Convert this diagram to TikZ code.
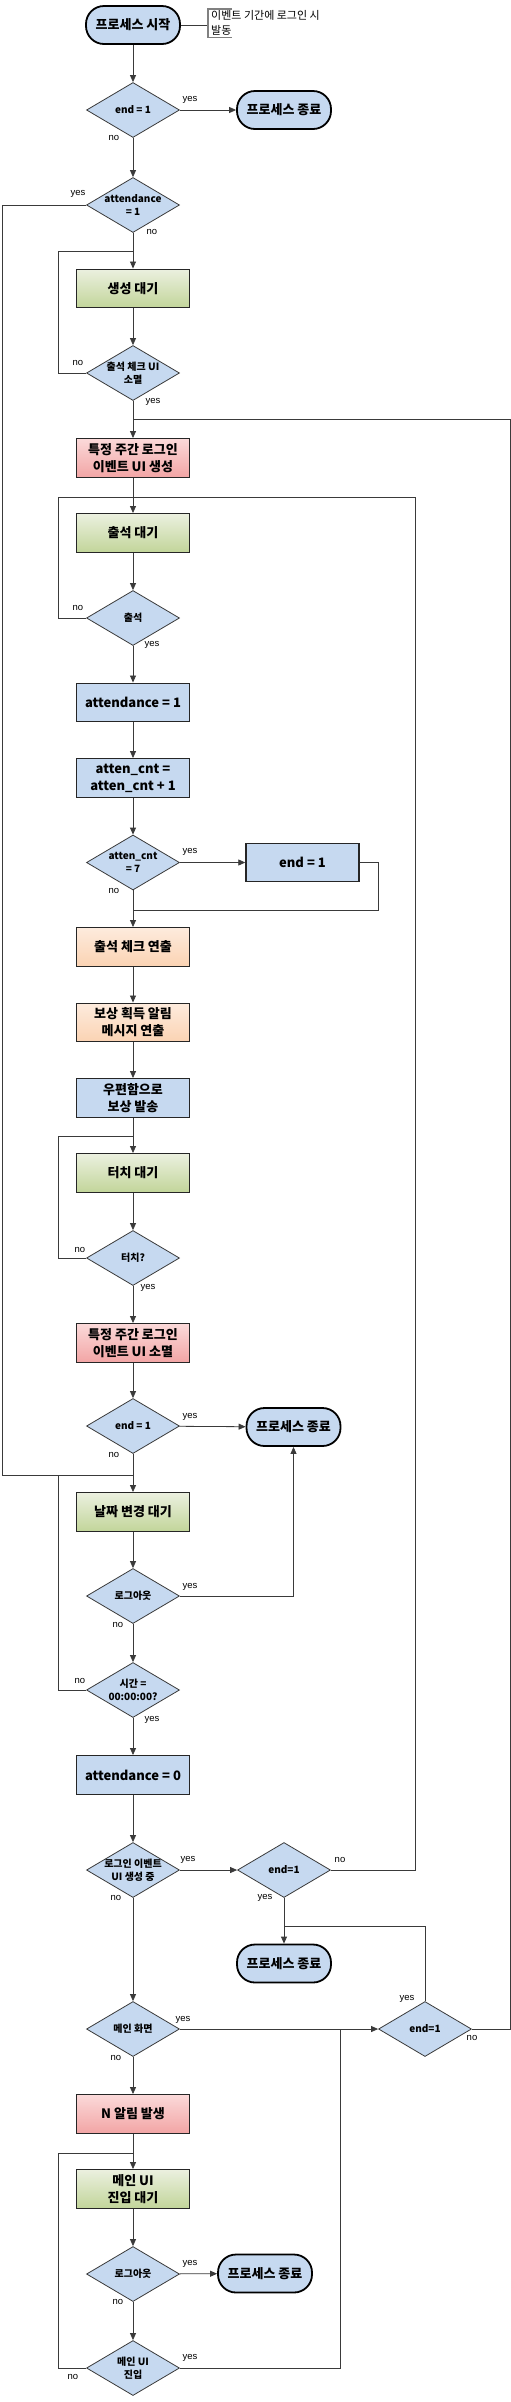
\documentclass[tikz,border=0pt]{standalone}
\usepackage{fontspec}
\setmainfont{Noto Sans CJK KR}
\newfontfamily\labfont{Liberation Sans}
\usetikzlibrary{shapes.geometric,arrows.meta}
\definecolor{cblue}{HTML}{C6D9F0}
\definecolor{gtop}{HTML}{EBF0DF}
\definecolor{gbot}{HTML}{C2D59A}
\definecolor{rtop}{HTML}{FBD9D9}
\definecolor{rbot}{HTML}{F2A5A5}
\definecolor{otop}{HTML}{FDEBDD}
\definecolor{obot}{HTML}{FBD3B3}
\definecolor{linec}{HTML}{3A3A3A}
\definecolor{boxline}{HTML}{262626}
\newcommand\mybxfont{\fontsize{13}{17}\selectfont\bfseries}
\newcommand\mydfont{\fontsize{10}{13.5}\selectfont\bfseries}
\tikzset{
  conn/.style={draw=linec, line width=0.8pt},
  arr/.style={conn, -{Triangle[length=7pt,width=6pt]}},
  box/.style={draw=boxline, line width=1.4pt, minimum width=113pt, minimum height=38.5pt, inner sep=1pt, align=center, font=\mybxfont},
  bluebox/.style={box, fill=cblue},
  greenbox/.style={box, top color=gtop, bottom color=gbot},
  redbox/.style={box, top color=rtop, bottom color=rbot},
  orangebox/.style={box, top color=otop, bottom color=obot},
  term/.style={draw=black, line width=1.8pt, rounded corners=18pt, fill=cblue, minimum width=94pt, minimum height=38pt, inner sep=1pt, font=\mybxfont},
  dia/.style={diamond, draw=linec, line width=0.8pt, fill=cblue, minimum width=93pt, minimum height=55pt, inner sep=0pt},
  dt/.style={font=\mydfont, align=center, inner sep=0pt},
  yn/.style={font=\labfont\fontsize{9.5}{10}\selectfont, inner sep=0pt},
}
\begin{document}
\begin{tikzpicture}[x=1pt, y=-1pt]
\useasboundingbox (0,0) rectangle (511,2402);

% ---------- nodes ----------
\node[term] (start) at (133,25) {프로세스 시작};
\node[anchor=north west, inner xsep=3pt, inner ysep=1.5pt, align=left, font=\fontsize{11}{15}\selectfont] (note) at (208,9) {이벤트 기간에 로그인 시\\발동};
\node[dia, label={[dt]center:end = 1}] (d1) at (133,110) {};
\node[term] (te1) at (284,110) {프로세스 종료};
\node[dia, label={[dt]center:{attendance\\= 1}}] (d2) at (133,205) {};
\node[greenbox] (bw1) at (133,288.5) {생성 대기};
\node[dia, label={[dt]center:{출석 체크 UI\\소멸}}] (d3) at (133,373) {};
\node[redbox] (bcr) at (133,458) {특정 주간 로그인\\이벤트 UI 생성};
\node[greenbox] (baw) at (133,533) {출석 대기};
\node[dia, label={[dt]center:출석}] (d4) at (133,618) {};
\node[bluebox] (ba1) at (133,702.5) {attendance = 1};
\node[bluebox] (bcn) at (133,778) {atten\_cnt =\\atten\_cnt + 1};
\node[dia, label={[dt]center:{atten\_cnt\\= 7}}] (d5) at (133,862.5) {};
\node[bluebox] (be1) at (302.5,862.5) {end = 1};
\node[orangebox] (ban) at (133,947) {출석 체크 연출};
\node[orangebox] (bms) at (133,1022.5) {보상 획득 알림\\메시지 연출};
\node[bluebox] (bml) at (133,1098) {우편함으로\\보상 발송};
\node[greenbox] (btw) at (133,1173) {터치 대기};
\node[dia, label={[dt]center:터치?}] (d6) at (133,1258) {};
\node[redbox] (bds) at (133,1343) {특정 주간 로그인\\이벤트 UI 소멸};
\node[dia, label={[dt]center:end = 1}] (d7) at (133,1426) {};
\node[term] (te2) at (293.5,1427) {프로세스 종료};
\node[greenbox] (bdt) at (133,1512) {날짜 변경 대기};
\node[dia, label={[dt]center:로그아웃}] (d8) at (133,1596) {};
\node[dia, label={[dt]center:{시간 =\\00:00:00?}}] (d9) at (133,1690) {};
\node[bluebox] (ba0) at (133,1775) {attendance = 0};
\node[dia, label={[dt]center:{로그인 이벤트\\UI 생성 중}}] (d10) at (133,1870) {};
\node[dia, label={[dt]center:end=1}] (d11) at (284,1870) {};
\node[term] (te3) at (284,1963.5) {프로세스 종료};
\node[dia, label={[dt]center:메인 화면}] (d12) at (133,2029) {};
\node[dia, label={[dt]center:end=1}] (d13) at (425,2029) {};
\node[redbox] (bN) at (133,2114) {N 알림 발생};
\node[greenbox] (bmw) at (133,2189) {메인 UI\\진입 대기};
\node[dia, label={[dt]center:로그아웃}] (d14) at (133,2274) {};
\node[term] (te4) at (265,2273.5) {프로세스 종료};
\node[dia, label={[dt]center:{메인 UI\\진입}}] (d15) at (133,2368) {};

% ---------- junction coordinates ----------
\coordinate (jA) at (133,251);
\coordinate (jB) at (133,419);
\coordinate (jC) at (133,497);
\coordinate (jD) at (133,910);
\coordinate (jE) at (133,1136);
\coordinate (jF) at (133,1475);
\coordinate (jG) at (284,1926);
\coordinate (jH) at (340,2029);
\coordinate (jI) at (133,2153);

% ---------- annotation ----------
\draw[conn] (start.east) -- (start.east -| note.west);
\draw[gray, line width=1.2pt] ([xshift=24pt]note.north west) -- (note.north west) -- (note.south west) -- ([xshift=24pt]note.south west);

% ---------- connectors ----------
\draw[arr] (start) -- (d1);
\draw[arr] (d1) -- (te1);
\draw[arr] (d1) -- (d2);
\draw[conn] (d2.west) -- (2,205) -- (2,1475) -- (jF);
\draw[arr] (d2) -- (bw1);
\draw[conn] (d3.west) -- (58,373) -- (58,251) -- (jA);
\draw[arr] (bw1) -- (d3);
\draw[arr] (d3) -- (bcr);
\draw[conn] (d13.east) -- (510,2029) -- (510,419) -- (jB);
\draw[arr] (bcr) -- (baw);
\draw[conn] (d4.west) -- (58,618) -- (58,497) -- (jC);
\draw[conn] (d11.east) -- (415,1870) -- (415,497) -- (jC);
\draw[arr] (baw) -- (d4);
\draw[arr] (d4) -- (ba1);
\draw[arr] (ba1) -- (bcn);
\draw[arr] (bcn) -- (d5);
\draw[arr] (d5) -- (be1);
\draw[arr] (d5) -- (ban);
\draw[conn] (be1.east) -- (378,862.5) -- (378,910) -- (jD);
\draw[arr] (ban) -- (bms);
\draw[arr] (bms) -- (bml);
\draw[arr] (bml) -- (btw);
\draw[conn] (d6.west) -- (58,1258) -- (58,1136) -- (jE);
\draw[arr] (btw) -- (d6);
\draw[arr] (d6) -- (bds);
\draw[arr] (bds) -- (d7);
\draw[arr] (d7) -- (te2);
\draw[arr] (d7) -- (bdt);
\draw[arr] (bdt) -- (d8);
\draw[arr] (d8.east) -| (te2.south);
\draw[arr] (d8) -- (d9);
\draw[conn] (d9.west) -- (58,1690) -- (58,1475);
\draw[arr] (d9) -- (ba0);
\draw[arr] (ba0) -- (d10);
\draw[arr] (d10) -- (d11);
\draw[arr] (d10) -- (d12);
\draw[arr] (d11) -- (te3);
\draw[conn] (d13.north) |- (jG);
\draw[arr] (d12) -- (d13);
\draw[arr] (d12) -- (bN);
\draw[arr] (bN) -- (bmw);
\draw[conn] (d15.west) -- (58,2368) -- (58,2153) -- (jI);
\draw[arr] (bmw) -- (d14);
\draw[arr] (d14) -- (te4);
\draw[arr] (d14) -- (d15);
\draw[conn] (d15.east) -- (340,2368) -- (jH);

% ---------- yes / no labels ----------
\node[yn] (l1y) at (190,100) {yes};
\node[yn] (l1n) at (114,138) {no};
\node[yn] (l2y) at (78,194) {yes};
\node[yn] (l2n) at (152,232) {no};
\node[yn] (l3n) at (78,363) {no};
\node[yn] (l3y) at (153,402) {yes};
\node[yn] (l4n) at (78,608) {no};
\node[yn] (l4y) at (152,645) {yes};
\node[yn] (l5y) at (190,852) {yes};
\node[yn] (l5n) at (114,891) {no};
\node[yn] (l6n) at (80,1250) {no};
\node[yn] (l6y) at (148,1288) {yes};
\node[yn] (l7y) at (190,1417) {yes};
\node[yn] (l7n) at (114,1455) {no};
\node[yn] (l8y) at (190,1587) {yes};
\node[yn] (l8n) at (118,1625) {no};
\node[yn] (l9n) at (80,1681) {no};
\node[yn] (l9y) at (152,1720) {yes};
\node[yn] (l10y) at (188,1860) {yes};
\node[yn] (l10n) at (116,1898) {no};
\node[yn] (l11n) at (340,1860) {no};
\node[yn] (l11y) at (265,1898) {yes};
\node[yn] (l12y) at (183,2020) {yes};
\node[yn] (l12n) at (116,2058) {no};
\node[yn] (l13y) at (407,1999) {yes};
\node[yn] (l13n) at (472,2038) {no};
\node[yn] (l14y) at (190,2264) {yes};
\node[yn] (l14n) at (118,2302) {no};
\node[yn] (l15y) at (190,2358) {yes};
\node[yn] (l15n) at (73,2377) {no};
\end{tikzpicture}
\end{document}
